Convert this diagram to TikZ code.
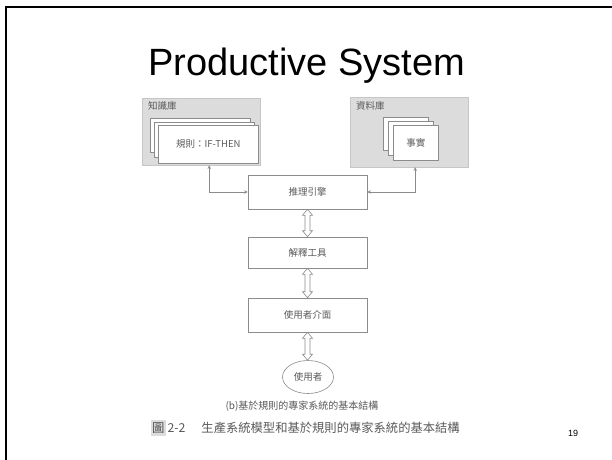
\documentclass[tikz,border=0pt]{standalone}
\usepackage{fontspec}
\setmainfont{Liberation Sans}
\newfontfamily\cjk{Noto Sans CJK TC}
\usetikzlibrary{arrows.meta,calc,shapes.geometric}
\definecolor{gfill}{HTML}{DCDCDC}
\definecolor{lcol}{HTML}{8C8C8C}
\definecolor{tcol}{HTML}{5A5A5A}
\newcommand\hollowarr[2]{%
  \draw[hollow] let \p1=(#1.south), \p2=(#2.north) in
    (\x1,\y1) -- (\x1-5pt,\y1-6pt) -- (\x1-2.5pt,\y1-6pt) -- (\x1-2.5pt,\y2+6pt)
    -- (\x1-5pt,\y2+6pt) -- (\x1,\y2) -- (\x1+5pt,\y2+6pt) -- (\x1+2.5pt,\y2+6pt)
    -- (\x1+2.5pt,\y1-6pt) -- (\x1+5pt,\y1-6pt) -- cycle;}
\begin{document}
\begin{tikzpicture}[x=1pt,y=-1pt,
  gbox/.style={draw=gfill!90!black, fill=gfill, line width=0.4pt, inner sep=0pt},
  card/.style={draw=lcol, fill=white, line width=0.6pt},
  pbox/.style={draw=lcol, fill=white, line width=0.6pt, minimum width=119pt, minimum height=34pt, inner sep=0pt},
  txt/.style={font=\cjk\fontsize{9.5}{11}\selectfont, text=tcol},
  conn/.style={draw=lcol, line width=0.6pt, {Stealth[length=3.5pt,width=3.5pt]}-{Stealth[length=3.5pt,width=3.5pt]}},
  hollow/.style={draw=lcol, fill=white, line width=0.6pt}
]
\useasboundingbox (0,0) rectangle (612,459);
\fill[white] (0,0) rectangle (612,459);
\draw[line width=2.5pt] (6,460) -- (6,7) -- (613,7);

\node[font=\fontsize{38}{40}\selectfont, anchor=base] (title) at (307,75) {Productive System};

% knowledge base
\node[gbox, minimum width=118pt, minimum height=67pt, anchor=north west] (kb) at (142,98) {};
\node[txt, anchor=north west, inner sep=0pt] (kbl) at (148,101) {知識庫};
\draw[card] (150,118) rectangle (250,152);
\draw[card] (154,122) rectangle (254,157);
\node[card, txt, minimum width=100pt, minimum height=38pt, anchor=north west, inner sep=0pt] (rule) at (158,125) {規則：IF-THEN};

% data base
\node[gbox, minimum width=118pt, minimum height=70pt, anchor=north west] (db) at (350,97) {};
\node[txt, anchor=north west, inner sep=0pt] (dbl) at (356,101) {資料庫};
\draw[card] (383,117) rectangle (428,150);
\draw[card] (388,121) rectangle (433,155);
\node[card, txt, minimum width=45pt, minimum height=35pt, anchor=north west, inner sep=0pt] (fact) at (393,125) {事實};

% main column
\node[pbox, txt] (inf) at (307.5,192) {推理引擎};
\node[pbox, txt, minimum height=31pt] (exp) at (307.5,252.5) {解釋工具};
\node[pbox, txt] (ui) at (307.5,315) {使用者介面};
\node[draw=lcol, fill=white, line width=0.6pt, ellipse, txt, minimum width=51pt, minimum height=33pt, inner sep=0pt] (user) at (308,377) {使用者};

\draw[conn] ([xshift=8pt]kb.south) |- (inf.west);
\draw[conn] ([xshift=6pt]db.south) |- (inf.east);

\hollowarr{inf}{exp}
\hollowarr{exp}{ui}
\hollowarr{ui}{user}

% captions
\node[font=\cjk\fontsize{10}{12}\selectfont, text=tcol] (cap1) at (302,406) {(b)基於規則的專家系統的基本結構};
\node[font=\cjk\fontsize{12.3}{14}\selectfont, text=tcol, anchor=west, inner sep=0pt] (cap2) at (151,428)
  {\colorbox{gfill}{\hspace{-2pt}\textcolor{tcol!90!black}{圖}\hspace{-2pt}}\,2-2\hspace{16pt}生產系統模型和基於規則的專家系統的基本結構};

\node[font=\fontsize{9}{10}\selectfont] (pg) at (573,433) {19};
\end{tikzpicture}
\end{document}
